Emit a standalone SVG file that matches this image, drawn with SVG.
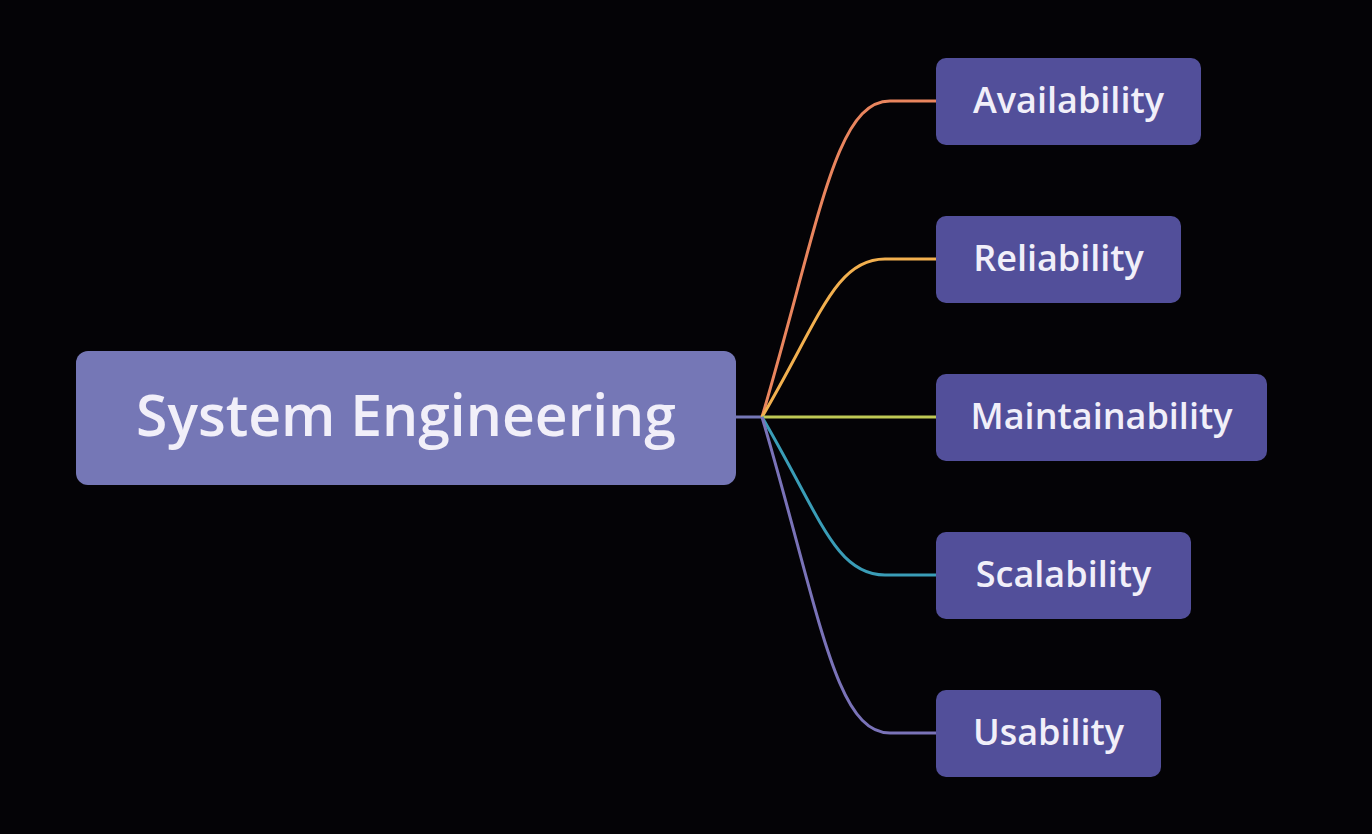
<svg xmlns="http://www.w3.org/2000/svg" width="1372" height="834" viewBox="0 0 1372 834">
<style>
.bg{fill:#040306}
.root rect{fill:#7577b6}
.child rect{fill:#524f9a}
text{font-family:"Open Sans","Noto Sans",sans-serif;font-weight:600;fill:#f1eff9;text-anchor:middle;dominant-baseline:central}
.root text{font-size:57px}
.child text{font-size:36px}
.edges path{fill:none;stroke-width:3}
</style>
<rect class="bg" width="1372" height="834"/>
<g class="edges" id="connectors">
<path d="M736,417 L763,417" stroke="#7577b6"/>
<path d="M762,417 C820,220 835,101 890,101 L936,101" stroke="#e9855e"/>
<path d="M762,417 C820,318.5 835,259 885,259 L936,259" stroke="#f2b04f"/>
<path d="M762,417 L936,417" stroke="#bfc955"/>
<path d="M762,417 C820,515.5 835,575 885,575 L936,575" stroke="#3a9db7"/>
<path d="M762,417 C820,614 835,733 890,733 L936,733" stroke="#7a73b8"/>
</g>
<g class="root" id="node-root">
<rect x="76" y="351" width="660" height="134" rx="12"/>
<text x="406" y="414">System Engineering</text>
</g>
<g class="child" id="node-availability">
<rect x="936" y="58" width="265" height="87" rx="10"/>
<text x="1068.5" y="99">Availability</text>
</g>
<g class="child" id="node-reliability">
<rect x="936" y="216" width="245" height="87" rx="10"/>
<text x="1058.5" y="257">Reliability</text>
</g>
<g class="child" id="node-maintainability">
<rect x="936" y="374" width="331" height="87" rx="10"/>
<text x="1101.5" y="415">Maintainability</text>
</g>
<g class="child" id="node-scalability">
<rect x="936" y="532" width="255" height="87" rx="10"/>
<text x="1063.5" y="573">Scalability</text>
</g>
<g class="child" id="node-usability">
<rect x="936" y="690" width="225" height="87" rx="10"/>
<text x="1048.5" y="731">Usability</text>
</g>
</svg>
